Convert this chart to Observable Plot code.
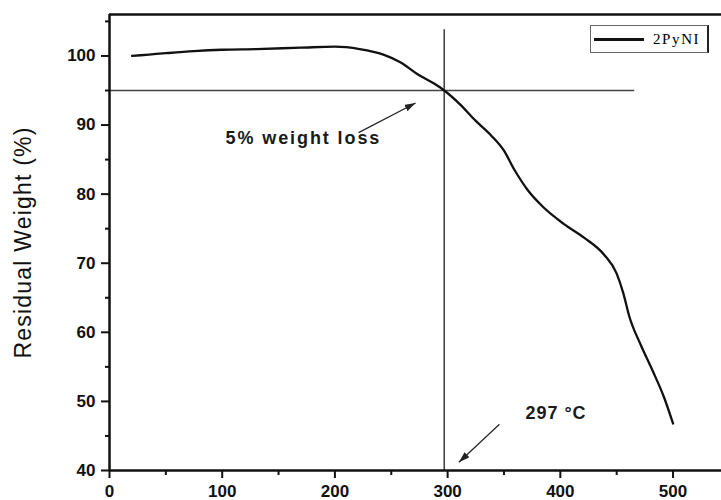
<!DOCTYPE html>
<html>
<head>
<meta charset="utf-8">
<script src="https://cdn.jsdelivr.net/npm/d3@7"></script>
<script src="https://cdn.jsdelivr.net/npm/@observablehq/plot@0.6"></script>
<style>
  html, body { margin: 0; padding: 0; background: #fff; }
  #wrap { position: relative; width: 721px; height: 500px; overflow: hidden; }
  #legend {
    position: absolute; left: 590px; top: 25px; width: 119px; height: 28px;
    box-sizing: border-box; border: 1.5px solid #666; border-right: 2.5px solid #222;
    background: #fff;
  }
  #legend .ln { position: absolute; left: 3px; top: 12px; width: 50px; height: 2.5px; background: #111; }
  #legend .tx { position: absolute; left: 62px; top: 3px; font: 15px 'Liberation Serif', 'DejaVu Serif', serif;
    letter-spacing: 1.6px; color: #000; line-height: 20px; }
</style>
</head>
<body>
<div id="wrap"></div>
<script>
// TGA data: temperature (°C) and residual weight (%)
const temps   = [20, 35, 50, 75, 100, 130, 170, 200, 222, 243, 258, 273, 288, 297, 311, 325, 338, 350, 359, 371, 385, 403, 421, 439, 450, 456, 461, 471, 482, 492, 500];
const weights = [100.0, 100.2, 100.4, 100.7, 100.9, 101.0, 101.2, 101.35, 101.0, 100.2, 99.1, 97.4, 96.0, 95.0, 93.0, 90.6, 88.6, 86.3, 83.6, 80.6, 78.1, 75.7, 73.7, 71.2, 68.5, 65.6, 62.4, 58.3, 54.4, 50.6, 46.8];
const seriesName = "2PyNI";

const xDomain = [0, 543];
const yDomain = [40, 106];
const xTicks = [0, 100, 200, 300, 400, 500];
const xMinorTicks = [50, 150, 250, 350, 450];
const yTicks = [40, 50, 60, 70, 80, 90, 100];
const yMinorTicks = [45, 55, 65, 75, 85, 95, 105];
const yLabel = "Residual Weight (%)";
const yLabelPos = [-76, 73];

// 5% weight-loss crosshair
const lossWeight = [95];
const lossTemp = [297];
const hLineEnd = [466];
const vLineTop = [103.8];

// annotations
const noteTexts = ["5% weight loss", "297 °C"];
const noteX = [103, 369];
const noteY = [88.1, 48.3];
const arrowX1 = [221, 346];
const arrowY1 = [88.9, 46.7];
const arrowX2 = [271.6, 310];
const arrowY2 = [93.2, 41.2];

const data = temps.map((t, i) => ({t, w: weights[i]}));
const notes = noteTexts.map((s, i) => ({s, x: noteX[i], y: noteY[i]}));
const arrows = arrowX1.map((x1, i) => ({x1, y1: arrowY1[i], x2: arrowX2[i], y2: arrowY2[i]}));

const font = "'Liberation Sans', Arial, Helvetica, sans-serif";

const svg = Plot.plot({
  width: 721, height: 500,
  marginLeft: 109, marginRight: 0, marginTop: 14, marginBottom: 30,
  x: {domain: xDomain, label: null},
  y: {domain: yDomain, label: null},
  style: {fontFamily: font, background: "#fff", color: "#111", overflow: "visible"},
  marks: [
    // crosshair
    Plot.ruleY(lossWeight, {x1: xDomain[0], x2: hLineEnd[0], stroke: "#444", strokeWidth: 1.6}),
    Plot.ruleX(lossTemp, {y1: yDomain[0], y2: vLineTop[0], stroke: "#444", strokeWidth: 1.6}),
    // curve
    Plot.line(data, {x: "t", y: "w", stroke: "#111", strokeWidth: 2.3, curve: "monotone-x"}),
    // minor ticks
    Plot.axisX(xMinorTicks, {tickSize: 5, tickFormat: () => "", strokeWidth: 2, stroke: "#111"}),
    Plot.axisY(yMinorTicks, {tickSize: 4, tickFormat: () => "", strokeWidth: 2, stroke: "#111"}),
    // major ticks
    Plot.axisX(xTicks, {tickSize: 8, tickPadding: 6, fontSize: 17, fontWeight: "bold", strokeWidth: 2, stroke: "#111", fill: "#111"}),
    Plot.axisY(yTicks, {tickSize: 8, tickPadding: 6, fontSize: 17, fontWeight: "bold", strokeWidth: 2, stroke: "#111", fill: "#111"}),
    // frame lines
    Plot.ruleX([xDomain[0]], {stroke: "#111", strokeWidth: 2.5}),
    Plot.ruleY([yDomain[0]], {stroke: "#111", strokeWidth: 2.5}),
    Plot.ruleY([yDomain[1]], {stroke: "#111", strokeWidth: 2.5}),
    // y label
    Plot.text([yLabel], {x: () => yLabelPos[0], y: () => yLabelPos[1], text: d => d, rotate: -90, fontSize: 23, fill: "#111"}),
    // annotations
    Plot.text(notes, {x: "x", y: "y", text: "s", textAnchor: "start", fontSize: 18, fontWeight: "bold", fill: "#1a1a1a"}),
    Plot.link(arrows, {x1: "x1", y1: "y1", x2: "x2", y2: "y2", stroke: "#222", strokeWidth: 1.2})
  ]
});

// filled arrowheads
const s = d3.select(svg);
s.append("defs").append("marker")
  .attr("id", "ahead").attr("viewBox", "0 0 10 10").attr("refX", 10).attr("refY", 5)
  .attr("markerUnits", "userSpaceOnUse").attr("markerWidth", 11).attr("markerHeight", 7)
  .attr("preserveAspectRatio", "none").attr("orient", "auto")
  .append("path").attr("d", "M0,0L10,5L0,10Z").attr("fill", "#222");
s.selectAll('g[aria-label="link"] path').attr("marker-end", "url(#ahead)");
s.selectAll("text").each(function() {
  const t = this.textContent;
  if (t === noteTexts[0]) d3.select(this).style("letter-spacing", "1.9px");
  if (t === noteTexts[1]) d3.select(this).style("letter-spacing", "1px");
  if (t === yLabel) d3.select(this).style("letter-spacing", "1.2px");
});

const wrap = document.getElementById("wrap");
wrap.appendChild(svg);
const legend = document.createElement("div");
legend.id = "legend";
legend.innerHTML = `<div class="ln"></div><div class="tx"></div>`;
legend.querySelector(".tx").textContent = seriesName;
wrap.appendChild(legend);
</script>
</body>
</html>
